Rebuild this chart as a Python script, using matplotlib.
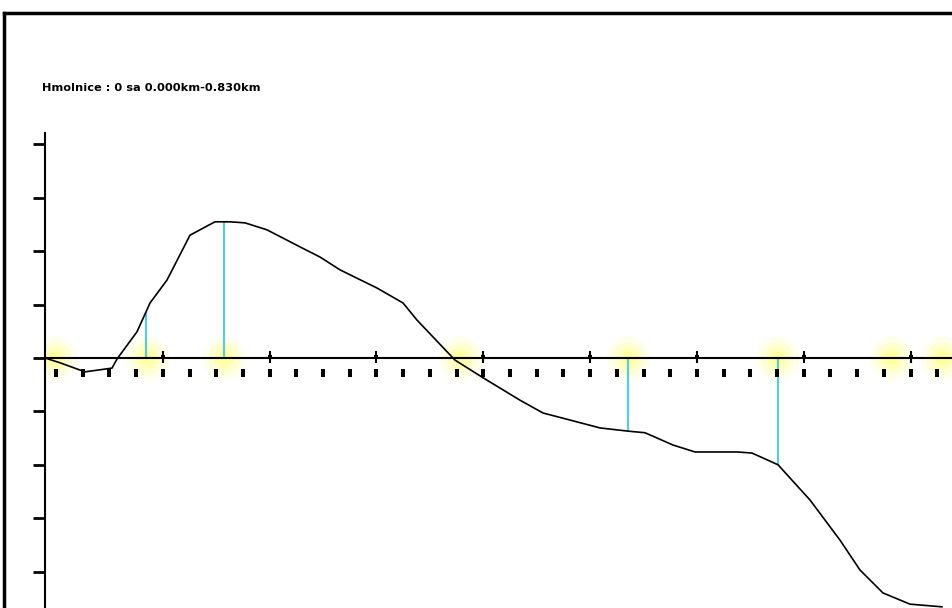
import numpy as np
import matplotlib.pyplot as plt
from matplotlib.lines import Line2D

# profile: chainage (m) and height relative to reference line
chainage = [0, 13.9, 37.0, 62.0, 66.6, 85.1, 97.2, 112.9, 134.2, 157.3, 171.2, 185.1,
            205.4, 236.0, 254.5, 273.0, 307.2, 331.3, 344.2, 379.4, 405.3, 439.5, 460.8,
            513.6, 539.5, 555.2, 581.1, 601.5, 640.3, 654.2, 678.3, 707.9, 735.6, 754.1,
            775.4, 800.4, 830.0]
height = [0, -0.09, -0.26, -0.19, -0.02, 0.49, 1.03, 1.46, 2.30, 2.55, 2.55, 2.53,
          2.40, 2.08, 1.89, 1.65, 1.31, 1.03, 0.71, -0.04, -0.37, -0.79, -1.03,
          -1.31, -1.37, -1.40, -1.63, -1.76, -1.76, -1.78, -2.00, -2.66, -3.41, -3.97,
          -4.40, -4.61, -4.66]

# stations marked with a vertical cyan line
marked_stations = [93.5, 165.6, 539.5, 678.3]
# highlighted spots along the axis
glow_stations = [9.5, 94.4, 165.6, 384.0, 539.5, 677.3, 783.0, 830.0]
# point labels along the axis
label_stations = [10.2 + 24.71 * k for k in range(34)]
major_stations = label_stations[4::4]
y_ticks = [-4, -3, -2, -1, 0, 1, 2, 3, 4]
title = "Hmolnice : 0 sa 0.000km-0.830km"

W, H = 953, 608
fig = plt.figure(figsize=(W / 100, H / 100), dpi=100)
ax = fig.add_axes([45 / W, 0, 1 - 45 / W, (H - 133) / H])
ax.set_xlim(0, 840.2)
ax.set_ylim(-4.682, 4.213)

for s in ["top", "right", "bottom"]:
    ax.spines[s].set_visible(False)
ax.spines["left"].set_linewidth(1.5)
ax.set_xticks([])
ax.set_yticks(y_ticks)
ax.set_yticklabels([])
ax.tick_params(axis="y", direction="out", length=9, width=2, color="black")

# yellow glow
for size, alpha in [(1000, 0.1), (550, 0.15), (250, 0.2), (90, 0.25)]:
    ax.scatter(glow_stations, [0] * len(glow_stations), s=size, color="#ffff50",
               alpha=alpha, linewidths=0, zorder=1)

ax.axhline(0, color="black", lw=1.5, zorder=3)

# cyan verticals from axis to profile
ends = np.interp(marked_stations, chainage, height)
ax.vlines(marked_stations, 0, ends, color="#5ccbd8", lw=1.6, zorder=2)

ax.plot(chainage, height, color="black", lw=1.2, zorder=4)

# small label blocks and major ticks
rect = [(-0.5, -1), (0.5, -1), (0.5, 1), (-0.5, 1)]
ax.scatter(label_stations, [-0.28] * len(label_stations), marker=rect, s=32,
           color="black", linewidths=0, zorder=5)
ax.vlines(major_stations, -0.1, 0.14, color="black", lw=1.5, zorder=5)
ax.scatter(major_stations, [0.02] * len(major_stations), marker="s", s=12,
           color="black", linewidths=0, zorder=5)

# outer frame
fig.add_artist(Line2D([4 / W, 1], [1 - 13 / H] * 2, color="black", lw=2.5))
fig.add_artist(Line2D([4 / W] * 2, [0, 1 - 13 / H], color="black", lw=2.5))

fig.text(42 / W, 1 - 88 / H, title, fontsize=8.2, fontweight="bold", va="center")

fig.savefig("out.png", dpi=100)
